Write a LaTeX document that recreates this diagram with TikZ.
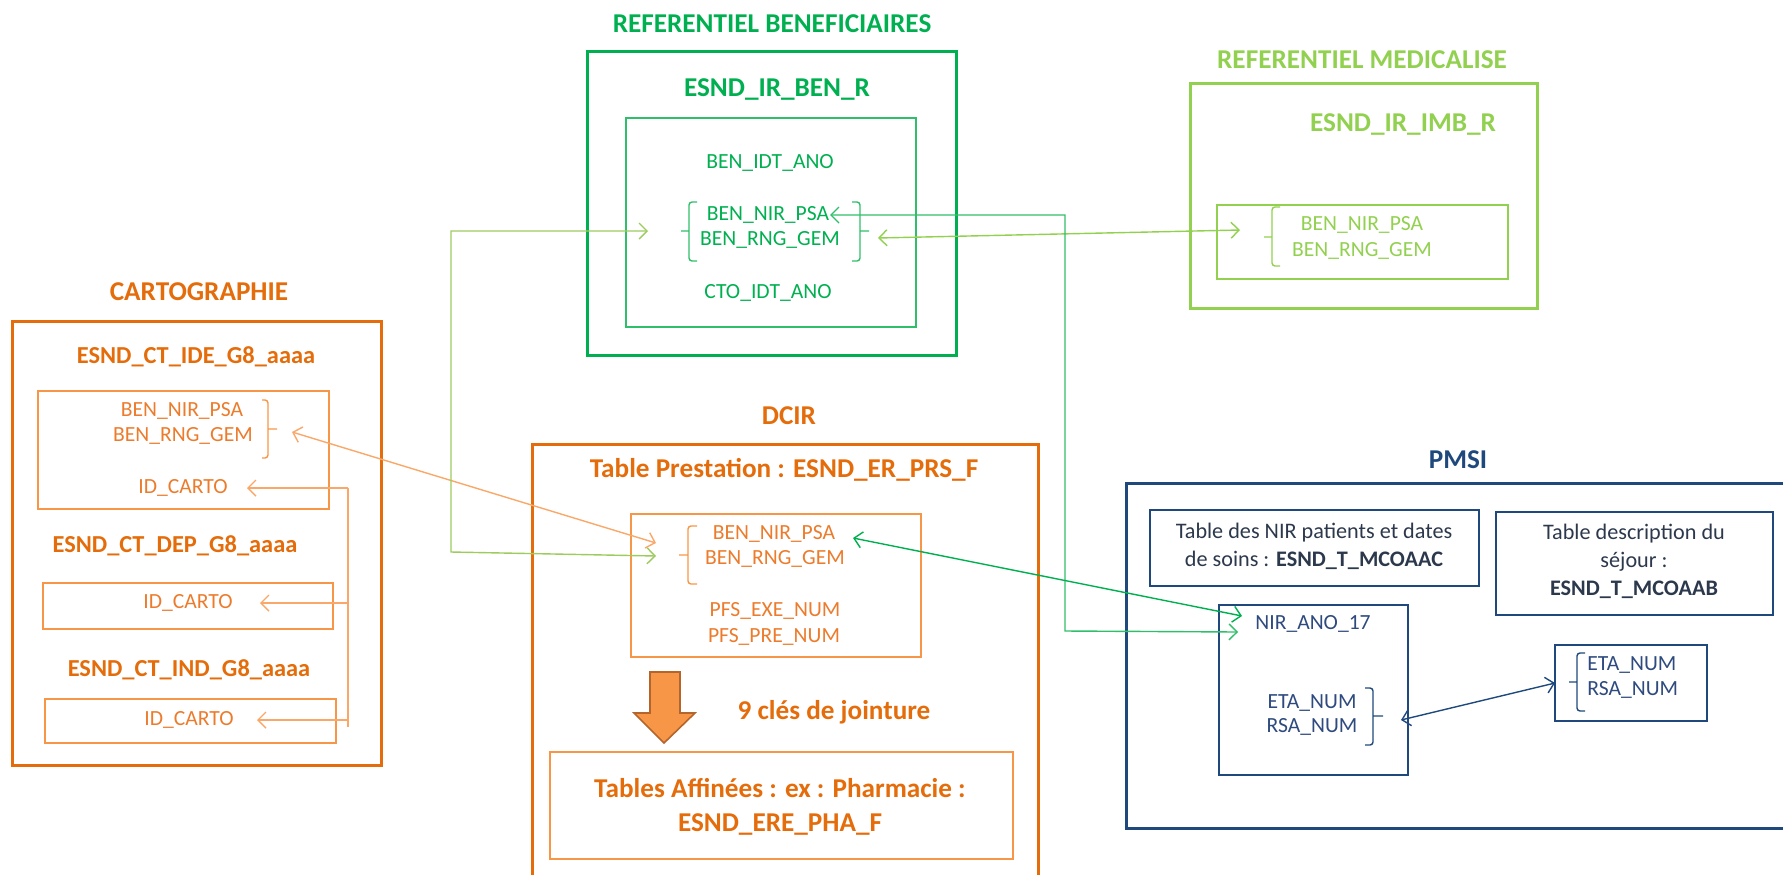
\documentclass[tikz,border=0pt]{standalone}
\usepackage{fontspec}
\setmainfont{Carlito}
\usepackage{tikz}
\usetikzlibrary{arrows.meta,positioning}
\definecolor{orangeD}{HTML}{E46C0A}
\definecolor{orangeL}{HTML}{F79646}
\definecolor{orangeT}{HTML}{EC7B2C}
\definecolor{orangeA}{HTML}{F9A86A}
\definecolor{orangeE}{HTML}{B4652B}
\definecolor{greenD}{HTML}{00B050}
\definecolor{greenM}{HTML}{2FBF6A}
\definecolor{greenL}{HTML}{92D050}
\definecolor{greenO}{HTML}{9CCB5E}
\definecolor{navy}{HTML}{1F497D}
\definecolor{navyT}{HTML}{2E4A7E}
\definecolor{slate}{HTML}{2C384C}

\begin{document}
\begin{tikzpicture}[x=0.5pt,y=-0.5pt,
  hdr/.style={font=\fontsize{13.6}{17}\selectfont\bfseries},
  sub/.style={font=\fontsize{12.2}{14}\selectfont\bfseries},
  fld/.style={font=\fontsize{10.8}{12}\selectfont,inner sep=1pt},
  txt/.style={font=\fontsize{11.1}{14}\selectfont,align=center,inner sep=1pt},
  outer/.style={line width=1.5pt},
  inner/.style={line width=0.8pt},
  brk/.style={line width=0.7pt,rounded corners=1.5pt},
  link/.style={line width=0.7pt,{Straight Barb[length=4pt,width=8pt]}-{Straight Barb[length=4pt,width=8pt]}},
  tolink/.style={line width=0.7pt,-{Straight Barb[length=4pt,width=8pt]}}]
  \useasboundingbox (0,0) rectangle (1783,874);
  \clip (0,0) rectangle (1783,874);

  % cartographie
  \node[hdr,orangeD] (carto) at (199,292) {CARTOGRAPHIE};
  \draw[outer,orangeD] (12,321) rectangle (381,765);
  \node[sub,orangeD] (ctIde) at (196,357) {ESND\_CT\_IDE\_G8\_aaaa};
  \draw[inner,orangeL] (38,391) rectangle (329,509);
  \node[fld,orangeT] (ctNir) at (182,411) {BEN\_NIR\_PSA};
  \node[fld,orangeT] (ctRng) at (183,436) {BEN\_RNG\_GEM};
  \draw[brk,orangeL] (262,400) -- (268,400) -- (268,458) -- (262,458) (268,429) -- (277,429);
  \node[fld,orangeT] (ctIdA) at (183,488) {ID\_CARTO};
  \node[sub,orangeD] (ctDep) at (175,546) {ESND\_CT\_DEP\_G8\_aaaa};
  \draw[inner,orangeL] (43,583) rectangle (333,629);
  \node[fld,orangeT] (ctIdB) at (188,603) {ID\_CARTO};
  \node[sub,orangeD] (ctInd) at (189,670) {ESND\_CT\_IND\_G8\_aaaa};
  \draw[inner,orangeL] (45,699) rectangle (336,743);
  \node[fld,orangeT] (ctIdC) at (189,720) {ID\_CARTO};

  % referentiel beneficiaires
  \node[hdr,greenD] (refBen) at (772,24) {REFERENTIEL BENEFICIAIRES};
  \draw[outer,greenD] (587,51) rectangle (956,355);
  \node[hdr,greenD] (irBen) at (777,89) {ESND\_IR\_BEN\_R};
  \draw[inner,greenM] (626,118) rectangle (916,327);
  \node[fld,greenD] (benIdt) at (770,163) {BEN\_IDT\_ANO};
  \node[fld,greenD] (benNir) at (768,215) {BEN\_NIR\_PSA};
  \node[fld,greenD] (benRng) at (770,240) {BEN\_RNG\_GEM};
  \node[fld,greenD] (ctoIdt) at (768,293) {CTO\_IDT\_ANO};
  \draw[brk,greenM] (697,202) -- (689,202) -- (689,261) -- (697,261) (689,231) -- (681,231);
  \draw[brk,greenM] (852,202) -- (860,202) -- (860,261) -- (852,261) (860,231) -- (869,231);

  % referentiel medicalise
  \node[hdr,greenL] (refMed) at (1362,60) {REFERENTIEL MEDICALISE};
  \draw[outer,greenL] (1190,83) rectangle (1537,308);
  \node[hdr,greenL] (irImb) at (1403,124) {ESND\_IR\_IMB\_R};
  \draw[inner,greenL] (1217,205) rectangle (1508,279);
  \node[fld,greenL] (imbNir) at (1362,225) {BEN\_NIR\_PSA};
  \node[fld,greenL] (imbRng) at (1362,251) {BEN\_RNG\_GEM};
  \draw[brk,greenL] (1280,207) -- (1272,207) -- (1272,266) -- (1280,266) (1272,237) -- (1264,237);

  % dcir
  \node[hdr,orangeD] (dcir) at (789,416) {DCIR};
  \draw[outer,orangeD] (532,900) -- (532,444) -- (1038,444) -- (1038,900);
  \node[hdr,orangeD] (prs) at (784,470) {Table Prestation : ESND\_ER\_PRS\_F};
  \draw[inner,orangeL] (631,514) rectangle (921,657);
  \node[fld,orangeT] (prsNir) at (774,534) {BEN\_NIR\_PSA};
  \node[fld,orangeT] (prsRng) at (775,559) {BEN\_RNG\_GEM};
  \node[fld,orangeT] (prsExe) at (775,611) {PFS\_EXE\_NUM};
  \node[fld,orangeT] (prsPre) at (774,637) {PFS\_PRE\_NUM};
  \draw[brk,orangeL] (697,526) -- (688,526) -- (688,584) -- (697,584) (688,555) -- (679,555);
  \draw[line width=0.8pt,draw=orangeE,fill=orangeL] (650,672) -- (680,672) -- (680,713) -- (695,713)
    -- (664,743) -- (634,713) -- (650,713) -- cycle;
  \node[hdr,orangeD] (cles) at (834,712) {9 clés de jointure};
  \draw[inner,orangeL] (550,752) rectangle (1013,859);
  \node[hdr,orangeD,align=center] (pha) at (780,807) {Tables Affinées : ex : Pharmacie :\\ESND\_ERE\_PHA\_F};

  % pmsi
  \node[hdr,navy] (pmsi) at (1458,460) {PMSI};
  \draw[outer,navy] (1126,483) rectangle (1800,828);
  \draw[inner,navy] (1150,510) rectangle (1479,586);
  \node[txt,slate] (mcoC) at (1314,546) {Table des NIR patients et dates\\de soins : \textbf{ESND\_T\_MCOAAC}};
  \draw[inner,navy] (1496,512) rectangle (1773,615);
  \node[txt,slate] (mcoB) at (1634,561) {Table description du\\séjour :\\\textbf{ESND\_T\_MCOAAB}};
  \draw[inner,navy] (1219,605) rectangle (1408,775);
  \node[fld,navyT] (nirAno) at (1313,624) {NIR\_ANO\_17};
  \node[fld,navyT] (etaA) at (1312,703) {ETA\_NUM};
  \node[fld,navyT] (rsaA) at (1312,727) {RSA\_NUM};
  \draw[brk,navy] (1365,688) -- (1373,688) -- (1373,745) -- (1365,745) (1373,716) -- (1383,716);
  \draw[inner,navy] (1555,645) rectangle (1707,721);
  \node[fld,navyT,anchor=west] (etaB) at (1585,665) {ETA\_NUM};
  \node[fld,navyT,anchor=west] (rsaB) at (1585,690) {RSA\_NUM};
  \draw[brk,navy] (1585,653) -- (1577,653) -- (1577,711) -- (1585,711) (1577,682) -- (1569,682);

  % liens entre tables
  \coordinate (ctKey) at (292,432);
  \coordinate (bus) at (348,488);
  \coordinate (busEnd) at (348,727);
  \coordinate (benKeyL) at (648,231);
  \coordinate (benKeyR) at (878,238);
  \coordinate (benNirR) at (830,215);
  \coordinate (imbKey) at (1240,230);
  \coordinate (prsKey) at (656,543);
  \coordinate (prsKeyB) at (656,556);
  \coordinate (prsNirR) at (853,538);
  \coordinate (nirA) at (1242,616);
  \coordinate (nirB) at (1238,632);
  \coordinate (rsaKey) at (1401,720);
  \coordinate (etaKey) at (1555,683);

  \draw[line width=0.7pt,orangeA] (bus) -- (busEnd);
  \draw[tolink,orangeA] (bus) -- (247,488);
  \draw[tolink,orangeA] (ctIdB -| bus) -- (260,603);
  \draw[tolink,orangeA] (ctIdC -| bus) -- (257,720);
  \draw[link,orangeA] (ctKey) -- (prsKey);
  \draw[link,greenO] (benKeyL) -- (451,231) -- (451,552) -- (prsKeyB);
  \draw[link,greenL] (benKeyR) -- (imbKey);
  \draw[link,greenM] (benNirR) -- (1065,215) -- (1065,631) -- (nirB);
  \draw[link,greenD] (prsNirR) -- (nirA);
  \draw[link,navy] (rsaKey) -- (etaKey);
\end{tikzpicture}
\end{document}
